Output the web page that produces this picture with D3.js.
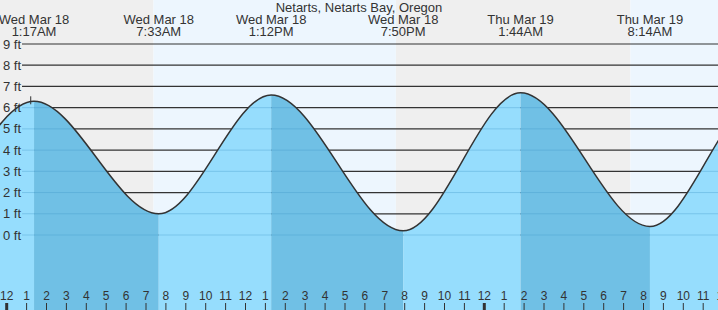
<!DOCTYPE html>
<html lang="en">
<head>
  <meta charset="UTF-8" />
  <title>tide chart</title>
  <script src="https://d3js.org/d3.v7.min.js" charset="utf-8"></script>
  <style>
    body { margin: 0; }
    text { font-family: "Liberation Sans", Arial, sans-serif; fill: #333; }
  </style>
</head>
<body>
<script type="text/javascript">

const WIDTH = 718;
const HEIGHT = 310;
const TITLE = "Netarts, Netarts Bay, Oregon";

// high / low tides (first and last ones are just outside the view)
const tideTimes = ["2026-03-17 12:50", "2026-03-17 19:00", "2026-03-18 01:17", "2026-03-18 07:33",
                   "2026-03-18 13:12", "2026-03-18 19:50", "2026-03-19 01:44", "2026-03-19 08:14",
                   "2026-03-19 13:55", "2026-03-19 20:30"];
const tideHeights = [6.0, 0.3, 6.3, 1.0, 6.6, 0.2, 6.7, 0.4, 6.6, 0.6];

// sunrise / sunset
const sunTimes = ["2026-03-18 07:17", "2026-03-18 19:28", "2026-03-19 07:15"];
const nowTime = "2026-03-18 01:07";
const footTicks = [0, 1, 2, 3, 4, 5, 6, 7, 8, 9];

const parse = d3.timeParse("%Y-%m-%d %H:%M");
const tides = tideTimes.map((t, i) => ({time: parse(t), ft: tideHeights[i]}));
const suns = sunTimes.map(parse);

const PX_HOUR = 19.9;
const t0 = parse("2026-03-18 00:00");
const x = d3.scaleTime()
    .domain([t0, d3.timeHour.offset(t0, 24)])
    .range([8.5, 8.5 + PX_HOUR * 24]);
const y = d3.scaleLinear()
    .domain([0, 9])
    .range([235, 44]);

const svg = d3.select("body")
    .append("svg")
        .attr("width", WIDTH)
        .attr("height", HEIGHT);

// day / night background
const edges = [x.invert(-50)].concat(suns, [x.invert(WIDTH + 50)]);
svg.append("g")
    .selectAll("rect")
    .data(d3.pairs(edges))
    .join("rect")
        .attr("x", d => x(d[0]))
        .attr("width", d => x(d[1]) - x(d[0]))
        .attr("y", 0)
        .attr("height", HEIGHT)
        .attr("fill", (d, i) => i % 2 == 0 ? "#efefef" : "#edf6fe");

// grid (dark over the sky)
svg.append("g")
    .selectAll("line")
    .data(footTicks)
    .join("line")
        .attr("x1", 22).attr("x2", WIDTH)
        .attr("y1", d => y(d)).attr("y2", d => y(d))
        .attr("stroke", "#333")
        .attr("stroke-width", 1.2);

// water
const area = d3.area()
    .curve(d3.curveMonotoneX)
    .x(d => x(d.time))
    .y0(HEIGHT)
    .y1(d => y(d.ft));
const line = d3.line()
    .curve(d3.curveMonotoneX)
    .x(d => x(d.time))
    .y(d => y(d.ft));

svg.append("clipPath")
    .attr("id", "water")
    .append("path")
        .attr("d", area(tides));

const water = svg.append("g").attr("clip-path", "url(#water)");
water.selectAll("rect")
    .data(d3.pairs(tides))
    .join("rect")
        .attr("x", d => x(d[0].time))
        .attr("width", d => x(d[1].time) - x(d[0].time))
        .attr("y", 0)
        .attr("height", HEIGHT)
        .attr("fill", d => d[1].ft < d[0].ft ? "#70c0e5" : "#96ddfd");
water.selectAll("line")
    .data(footTicks)
    .join("line")
        .attr("x1", 22).attr("x2", WIDTH)
        .attr("y1", d => y(d)).attr("y2", d => y(d))
        .attr("stroke", "#3f95c8")
        .attr("stroke-opacity", 0.35);

svg.append("path")
    .attr("d", line(tides))
    .attr("fill", "none")
    .attr("stroke", "#333")
    .attr("stroke-width", 1.5);

// now marker
const nowFt = tideHeights[2];
svg.append("line")
    .attr("x1", x(parse(nowTime))).attr("x2", x(parse(nowTime)))
    .attr("y1", y(nowFt) - 5).attr("y2", y(nowFt) + 3)
    .attr("stroke", "#333");

// y labels
svg.append("g")
    .selectAll("text")
    .data(footTicks)
    .join("text")
        .attr("x", 3)
        .attr("y", d => y(d) + 4.5)
        .attr("font-size", "13px")
        .text(d => d + " ft");

// title + tide labels
svg.append("text")
    .attr("x", WIDTH / 2)
    .attr("y", 12)
    .attr("text-anchor", "middle")
    .attr("font-size", "13px")
    .text(TITLE);

const visible = tides.filter(d => x(d.time) > 0 && x(d.time) < WIDTH);
const lbl = svg.append("g")
    .selectAll("text")
    .data(visible)
    .join("text")
        .attr("text-anchor", "middle")
        .attr("font-size", "13px");
lbl.append("tspan")
    .attr("x", d => x(d.time))
    .attr("y", 24)
    .text(d => d3.timeFormat("%a %b %-d")(d.time));
lbl.append("tspan")
    .attr("x", d => x(d.time))
    .attr("y", 36)
    .text(d => d3.timeFormat("%-I:%M%p")(d.time));

// hour axis, over the whole width
const hours = d3.timeHour.range(x.invert(0), x.invert(WIDTH + 20));
const axis = svg.append("g")
    .attr("transform", `translate(-2.3, ${HEIGHT})`)
    .call(
        d3.axisTop(x)
            .tickValues(hours)
            .tickSize(7)
            .tickPadding(3)
            .tickFormat(d3.timeFormat("%-I"))
    )
    .call(g => g.select(".domain").remove());
axis.selectAll(".tick line")
    .attr("stroke", "#333")
    .attr("stroke-width", d => d.getHours() == 0 ? 3 : 1);
axis.selectAll(".tick text")
    .attr("font-family", "Liberation Sans, Arial, sans-serif")
    .attr("font-size", "12px")
    .attr("fill", "#333");

</script>
</body>
</html>
